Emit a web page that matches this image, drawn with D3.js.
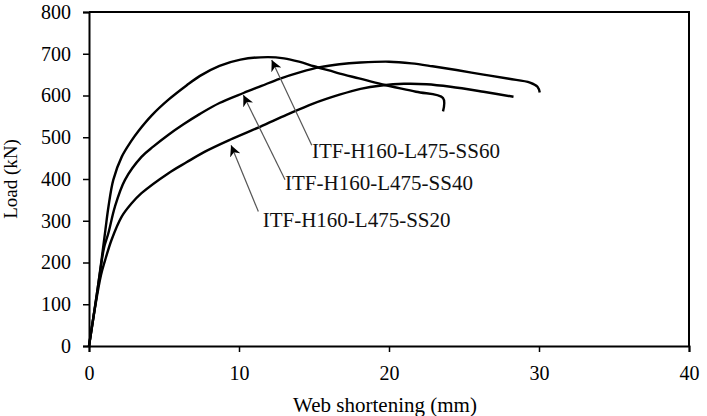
<!DOCTYPE html>
<html>
<head>
<meta charset="utf-8">
<script src="https://cdn.jsdelivr.net/npm/d3@7"></script>
<style>
    body { margin: 0; background: #fff; }
    svg { display: block; font-family: 'Liberation Serif', 'Times New Roman', serif; }
</style>
</head>
<body>
<svg></svg>
<script>
// web shortening (mm) / load (kN)
let ss60X = [0, 0.45, 0.85, 1.1, 1.3, 1.62, 2.18, 2.8, 3.3, 4.2, 5.3, 6.5, 7.4, 8.7, 10.1, 11.9, 13.0, 14.0, 15.0, 16.0, 17.0, 18.0, 19.5, 21.8, 23.6, 23.6]
let ss60Y = [0, 105, 210, 280, 334, 398, 453, 490, 515, 553, 590, 624, 647, 671, 686, 692, 689, 681, 670, 660, 650, 641, 627, 609, 594, 562]

let ss40X = [0, 0.4, 0.75, 1.0, 1.29, 1.73, 2.4, 3.5, 4.3, 5.3, 6.3, 7.4, 8.7, 10.3, 11.5, 12.7, 14.1, 15.4, 16.7, 18.1, 20.0, 21.5, 22.9, 24.5, 26.3, 28.0, 29.4, 29.9, 30.05]
let ss40Y = [0, 95, 180, 235, 270, 334, 398, 453, 478, 506, 531, 556, 582, 606, 623, 640, 656, 668, 675, 679, 681, 677, 670, 661, 650, 640, 631, 621, 607]

let ss20X = [0, 0.4, 0.8, 1.07, 1.5, 2.18, 2.8, 3.5, 5.3, 6.5, 7.7, 9.4, 11.4, 13.2, 14.9, 16.7, 18.1, 19.5, 21.0, 22.5, 24.1, 26.3, 28.3]
let ss20Y = [0, 92, 170, 205, 254, 310, 340, 366, 414, 440, 465, 494, 525, 554, 580, 602, 616, 624, 628, 627, 621, 609, 597]

let labels = ['ITF-H160-L475-SS60', 'ITF-H160-L475-SS40', 'ITF-H160-L475-SS20']
// arrow tip, arrow tail and label anchor, in data units
let tipX = [12.18, 10.29, 9.47]
let tipY = [685, 601, 481]
let tailX = [14.85, 13.07, 11.29]
let tailY = [481, 398, 322]
let labelX = [14.87, 13.07, 11.58]
let labelY = [450, 374, 286]

let xTicks = [0, 10, 20, 30, 40]
let yTicks = [0, 100, 200, 300, 400, 500, 600, 700, 800]

let width = 707
let height = 416
let plotLeft = 89
let plotRight = 689
let plotTop = 12
let plotBottom = 346

let svg = d3.select('svg')
    .attr('width', width)
    .attr('height', height)

let xScale = d3.scaleLinear().domain([0, 40]).range([plotLeft, plotRight])
let yScale = d3.scaleLinear().domain([0, 800]).range([plotBottom, plotTop])

let series = [
    d3.zip(ss60X, ss60Y),
    d3.zip(ss40X, ss40Y),
    d3.zip(ss20X, ss20Y)
]

let drawAxes = () => {
    let xAxis = d3.axisBottom(xScale).tickValues(xTicks).tickSize(6).tickPadding(10)
    let yAxis = d3.axisLeft(yScale).tickValues(yTicks).tickSize(6).tickPadding(12)

    let gx = svg.append('g')
        .attr('transform', 'translate(0, ' + plotBottom + ')')
        .call(xAxis)
    let gy = svg.append('g')
        .attr('transform', 'translate(' + plotLeft + ', 0)')
        .call(yAxis)

    for (let g of [gx, gy]) {
        g.selectAll('path.domain').attr('stroke', '#000').attr('stroke-width', 2)
        g.selectAll('.tick line').attr('stroke', '#000').attr('stroke-width', 1.5)
        g.selectAll('.tick text')
            .attr('fill', '#000')
            .style('font-family', "'Liberation Serif', 'Times New Roman', serif")
            .style('font-size', '20px')
    }
    gx.selectAll('.tick text').attr('dy', '0.9em')

    // top and right frame lines
    svg.append('path')
        .attr('d', 'M' + plotLeft + ',' + plotTop + 'H' + plotRight + 'V' + plotBottom)
        .attr('fill', 'none')
        .attr('stroke', '#000')
        .attr('stroke-width', 2)

    svg.append('text')
        .attr('x', (plotLeft + plotRight) / 2 - 4)
        .attr('y', 412)
        .attr('text-anchor', 'middle')
        .style('font-size', '21px')
        .text('Web shortening (mm)')

    svg.append('text')
        .attr('transform', 'translate(17, ' + ((plotTop + plotBottom) / 2) + ') rotate(-90)')
        .attr('text-anchor', 'middle')
        .style('font-size', '19px')
        .text('Load (kN)')
}

let drawLines = () => {
    let line = d3.line()
        .x((d) => xScale(d[0]))
        .y((d) => yScale(d[1]))
        .curve(d3.curveCatmullRom.alpha(0.5))

    svg.selectAll('path.curve')
        .data(series)
        .enter()
        .append('path')
        .attr('class', 'curve')
        .attr('d', line)
        .attr('fill', 'none')
        .attr('stroke', '#000')
        .attr('stroke-width', 2.4)
        .attr('stroke-linejoin', 'round')
}

let drawAnnotations = () => {
    svg.append('defs')
        .append('marker')
        .attr('id', 'head')
        .attr('viewBox', '0 0 10 10')
        .attr('refX', 10)
        .attr('refY', 5)
        .attr('markerWidth', 11)
        .attr('markerHeight', 11)
        .attr('markerUnits', 'userSpaceOnUse')
        .attr('orient', 'auto')
        .append('path')
        .attr('d', 'M0,0 L10,5 L0,10 L3,5 Z')
        .attr('fill', '#000')

    labels.forEach((label, i) => {
        svg.append('line')
            .attr('x1', xScale(tailX[i]))
            .attr('y1', yScale(tailY[i]))
            .attr('x2', xScale(tipX[i]))
            .attr('y2', yScale(tipY[i]))
            .attr('stroke', '#555')
            .attr('stroke-width', 1.2)
            .attr('marker-end', 'url(#head)')

        svg.append('text')
            .attr('x', xScale(labelX[i]))
            .attr('y', yScale(labelY[i]))
            .style('font-size', '21px')
            .attr('fill', '#111')
            .text(label)
    })
}

drawAxes()
drawLines()
drawAnnotations()
</script>
</body>
</html>
